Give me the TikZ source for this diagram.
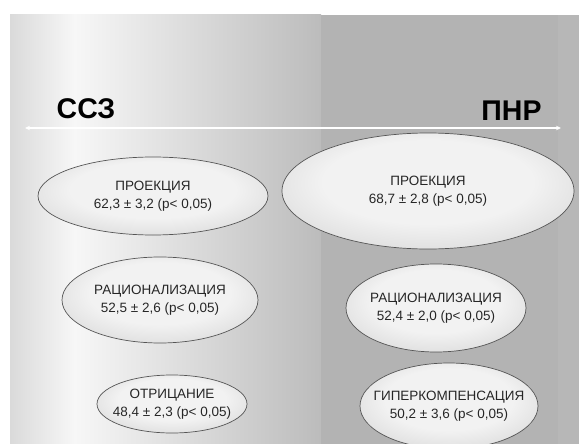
\documentclass[tikz,border=0pt]{standalone}
\usepackage{fontspec}
\setmainfont{Liberation Sans}
\usetikzlibrary{shapes.geometric,arrows.meta}
\definecolor{rimgray}{HTML}{555555}
\definecolor{ellin}{HTML}{F2F2F2}
\definecolor{ellout}{HTML}{BBBBBB}
\definecolor{bgA}{HTML}{DADADA}
\definecolor{bgB}{HTML}{F7F7F7}
\definecolor{bgC}{HTML}{BCBCBC}
\definecolor{bgD}{HTML}{B3B3B3}
\definecolor{bgE}{HTML}{B7B7B7}
\pgfdeclareradialshading{ellshade}{\pgfpoint{0bp}{6bp}}{color(0bp)=(ellin); color(18bp)=(ellin); color(50bp)=(ellout)}
\tikzset{
  oval/.style={ellipse, draw=rimgray, line width=0.7pt, shading=ellshade, inner sep=0pt},
  ovaltext/.style={align=center, font=\fontsize{13.5}{18}\selectfont, text=black!85},
  headlabel/.style={font=\fontsize{28.5}{32}\selectfont\bfseries, text=black, anchor=base}
}
\begin{document}
\begin{tikzpicture}[x=1pt,y=-1pt]
\useasboundingbox (0,0) rectangle (579,444);
\fill[white] (0,0) rectangle (579,444);
% background gradient
\shade[left color=bgA, right color=bgB] (10,15) rectangle (75,444);
\shade[left color=bgB, right color=bgC] (74.5,15) rectangle (321,444);
\fill[bgD] (320.5,15) rectangle (558,444);
\fill[bgE] (557.5,15) rectangle (579,444);
% headings
\node[headlabel] (ssz) at (86,118.5) {ССЗ};
\node[headlabel] (pnr) at (511.5,120.5) {ПНР};
% axis arrow
\coordinate (aL) at (25,128);
\coordinate (aR) at (561,128);
\draw[white, line width=1.6pt, {Stealth[length=5pt,width=4.5pt]}-{Stealth[length=5pt,width=4.5pt]}] (aL) -- (aR);
% ovals
\node[oval, minimum width=230pt, minimum height=78pt] (e1) at (153,196) {};
\node[oval, minimum width=292pt, minimum height=116pt] (e2) at (428,191) {};
\node[oval, minimum width=196pt, minimum height=86pt] (e3) at (160,300) {};
\node[oval, minimum width=180pt, minimum height=88pt] (e4) at (436,308) {};
\node[oval, minimum width=150pt, minimum height=58pt] (e5) at (172,404) {};
\node[oval, minimum width=178pt, minimum height=86pt] (e6) at (449,406) {};
\node[ovaltext] (t1) at (e1) {ПРОЕКЦИЯ\\62,3 ± 3,2 (p< 0,05)};
\node[ovaltext] (t2) at (e2) {ПРОЕКЦИЯ\\68,7 ± 2,8 (p< 0,05)};
\node[ovaltext] (t3) at (e3) {РАЦИОНАЛИЗАЦИЯ\\52,5 ± 2,6 (p< 0,05)};
\node[ovaltext] (t4) at (e4) {РАЦИОНАЛИЗАЦИЯ\\52,4 ± 2,0 (p< 0,05)};
\node[ovaltext] (t5) at (e5) {ОТРИЦАНИЕ\\48,4 ± 2,3 (p< 0,05)};
\node[ovaltext] (t6) at (e6) {ГИПЕРКОМПЕНСАЦИЯ\\50,2 ± 3,6 (p< 0,05)};
\end{tikzpicture}
\end{document}
